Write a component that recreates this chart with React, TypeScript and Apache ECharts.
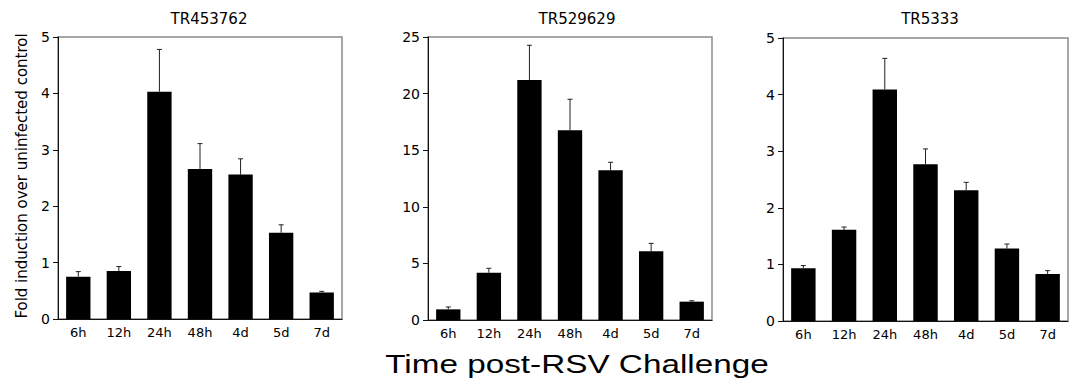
import React, { useEffect, useRef } from "react";
import * as echarts from "echarts";

const categories = ["6h", "12h", "24h", "48h", "4d", "5d", "7d"];

const titles = ["TR453762", "TR529629", "TR5333"];

const means1 = [0.75, 0.85, 4.03, 2.66, 2.56, 1.53, 0.47];
const errs1 = [0.09, 0.08, 0.75, 0.45, 0.28, 0.14, 0.02];

const means2 = [0.94, 4.18, 21.2, 16.76, 13.22, 6.07, 1.62];
const errs2 = [0.21, 0.39, 3.07, 2.74, 0.71, 0.7, 0.08];

const means3 = [0.93, 1.61, 4.09, 2.77, 2.31, 1.28, 0.83];
const errs3 = [0.05, 0.05, 0.55, 0.27, 0.14, 0.08, 0.06];

const yMaxes = [5, 25, 5];
const yIntervals = [1, 5, 1];

const yAxisTitle = "Fold induction over uninfected control";
const xAxisTitle = "Time post-RSV Challenge";

const FONT = "DejaVu Sans";

export default function App() {
  const ref = useRef<HTMLDivElement>(null);

  useEffect(() => {
    if (!ref.current) return;
    const chart = echarts.init(ref.current, undefined, { renderer: "svg" });

    const grids = [
      { left: 58, top: 37, width: 284, height: 282 },
      { left: 428, top: 37, width: 284, height: 283 },
      { left: 783, top: 38, width: 285, height: 283 },
    ];
    const meansAll = [means1, means2, means3];
    const errsAll = [errs1, errs2, errs3];
    const titleX = [209, 577, 930];

    const series: any[] = [];
    meansAll.forEach((m, i) => {
      series.push({
        type: "bar",
        xAxisIndex: i,
        yAxisIndex: i,
        data: m,
        barWidth: "60%",
        itemStyle: { color: "#000" },
        z: 2,
      });
      series.push({
        type: "custom",
        xAxisIndex: i,
        yAxisIndex: i,
        z: 3,
        data: m.map((v, k) => [k, v, v + errsAll[i][k]]),
        renderItem: (params: any, api: any) => {
          const x = api.value(0);
          const p0 = api.coord([x, api.value(1)]);
          const p1 = api.coord([x, api.value(2)]);
          const style = { stroke: "#222", lineWidth: 1 };
          return {
            type: "group",
            children: [
              { type: "line", shape: { x1: p0[0], y1: p0[1], x2: p1[0], y2: p1[1] }, style },
              { type: "line", shape: { x1: p1[0] - 2.5, y1: p1[1], x2: p1[0] + 2.5, y2: p1[1] }, style },
            ],
          };
        },
      });
    });

    const option: any = {
      animation: false,
      backgroundColor: "#fff",
      grid: grids.map((g) => ({
        ...g,
        show: true,
        borderColor: "#8a8a8a",
        borderWidth: 1.5,
        backgroundColor: "transparent",
      })),
      xAxis: grids.map((_, i) => ({
        type: "category",
        gridIndex: i,
        data: categories,
        axisLine: { show: true, lineStyle: { color: "#111", width: 1 } },
        axisTick: { show: false },
        axisLabel: { color: "#000", fontFamily: FONT, fontSize: 13, margin: 7 },
      })),
      yAxis: grids.map((_, i) => ({
        type: "value",
        gridIndex: i,
        min: 0,
        max: yMaxes[i],
        interval: yIntervals[i],
        splitLine: { show: false },
        axisLine: { show: true, lineStyle: { color: "#111", width: 1 } },
        axisTick: { show: true, length: 5, lineStyle: { color: "#111" } },
        axisLabel: {
          color: "#000",
          fontFamily: FONT,
          fontSize: 14,
          margin: 8,
          padding: [0, 0, 6, 0],
        },
      })),
      series,
      graphic: [
        ...titles.map((t, i) => ({
          type: "text",
          x: titleX[i],
          y: 19,
          style: {
            text: t,
            fill: "#000",
            font: `15px "${FONT}"`,
            align: "center",
            verticalAlign: "middle",
          },
        })),
        {
          type: "text",
          x: 22,
          y: 176,
          rotation: Math.PI / 2,
          style: {
            text: yAxisTitle,
            fill: "#000",
            font: `15px "${FONT}"`,
            align: "center",
            verticalAlign: "middle",
          },
        },
        {
          type: "text",
          x: 577,
          y: 364,
          scaleX: 1.28,
          style: {
            text: xAxisTitle,
            fill: "#000",
            font: `26px "Liberation Sans"`,
            align: "center",
            verticalAlign: "middle",
          },
        },
      ],
    };

    chart.setOption(option);
    return () => chart.dispose();
  }, []);

  return (
    <div
      ref={ref}
      style={{ position: "fixed", left: 0, top: 0, width: 1077, height: 385, background: "#fff" }}
    />
  );
}
